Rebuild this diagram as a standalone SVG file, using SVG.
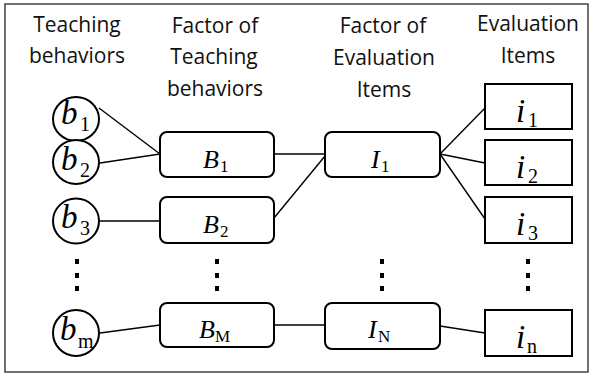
<svg xmlns="http://www.w3.org/2000/svg" width="592" height="375" viewBox="0 0 592 375">
  <style>
    .frame { fill: #ffffff; stroke: #404040; stroke-width: 1.5; }
    .hdr { font-family: "Open Sans", "Liberation Sans", sans-serif; font-size: 21px; fill: #111111; text-anchor: middle; }
    .node { fill: #ffffff; stroke: #000000; stroke-width: 2; }
    .edge { stroke: #000000; stroke-width: 1.4; fill: none; }
    .var { font-family: "Liberation Serif", "Times New Roman", serif; font-style: italic; fill: #000000; }
    .big { font-size: 33px; }
    .mid { font-size: 26px; }
    .sub { font-family: "Liberation Serif", "Times New Roman", serif; font-style: normal; fill: #000000; }
    .subbig { font-size: 20px; }
    .submid { font-size: 17px; }
    .dot { fill: #000000; }
  </style>
  <defs>
    <g id="vdots">
      <rect x="-2" y="259" width="4" height="5"/>
      <rect x="-2" y="273" width="4" height="5"/>
      <rect x="-2" y="286" width="4" height="5"/>
    </g>
  </defs>

  <rect class="frame" x="5" y="4" width="583" height="368"/>

  <!-- column headings -->
  <g id="headers">
    <text class="hdr" x="77" y="32">Teaching</text>
    <text class="hdr" x="77" y="63">behaviors</text>
    <text class="hdr" x="215" y="33">Factor of</text>
    <text class="hdr" x="214" y="64">Teaching</text>
    <text class="hdr" x="215" y="96">behaviors</text>
    <text class="hdr" x="383" y="33">Factor of</text>
    <text class="hdr" x="384" y="65">Evaluation</text>
    <text class="hdr" x="384" y="97">Items</text>
    <text class="hdr" x="528" y="31">Evaluation</text>
    <text class="hdr" x="528" y="63">Items</text>
  </g>

  <!-- connectors -->
  <g id="connectors">
    <line class="edge" x1="99" y1="108" x2="160" y2="154"/>
    <line class="edge" x1="100" y1="163" x2="160" y2="154"/>
    <line class="edge" x1="100" y1="221" x2="160" y2="221"/>
    <line class="edge" x1="100" y1="333" x2="160" y2="325"/>
    <line class="edge" x1="274" y1="154" x2="325" y2="154"/>
    <line class="edge" x1="274" y1="218" x2="325" y2="156"/>
    <line class="edge" x1="274" y1="325" x2="325" y2="325"/>
    <line class="edge" x1="440" y1="154" x2="485" y2="108"/>
    <line class="edge" x1="440" y1="154" x2="485" y2="163"/>
    <line class="edge" x1="440" y1="154" x2="485" y2="219"/>
    <line class="edge" x1="440" y1="326" x2="485" y2="333"/>
  </g>

  <!-- teaching behaviors -->
  <g id="b1">
    <ellipse class="node" cx="76" cy="119" rx="23" ry="22"/>
    <text class="var big" x="61" y="124">b</text>
    <text class="sub subbig" x="80" y="131">1</text>
  </g>
  <g id="b2">
    <ellipse class="node" cx="76" cy="162" rx="23" ry="22"/>
    <text class="var big" x="61" y="170">b</text>
    <text class="sub subbig" x="80" y="177">2</text>
  </g>
  <g id="b3">
    <ellipse class="node" cx="76" cy="221" rx="23" ry="22.5"/>
    <text class="var big" x="61" y="228">b</text>
    <text class="sub subbig" x="80" y="235">3</text>
  </g>
  <g id="bm">
    <ellipse class="node" cx="76" cy="333" rx="23" ry="23"/>
    <text class="var big" x="60" y="340">b</text>
    <text class="sub subbig" x="78" y="348">m</text>
  </g>
  <use href="#vdots" x="77" class="dot"/>

  <!-- factors of teaching behaviors -->
  <g id="B1">
    <rect class="node" x="160" y="132" width="114" height="45" rx="7"/>
    <text class="var mid" x="203" y="168">B</text>
    <text class="sub submid" x="220" y="172">1</text>
  </g>
  <g id="B2">
    <rect class="node" x="160" y="197" width="114" height="46" rx="7"/>
    <text class="var mid" x="203" y="233">B</text>
    <text class="sub submid" x="220" y="237">2</text>
  </g>
  <g id="BM">
    <rect class="node" x="160" y="303" width="114" height="44" rx="7"/>
    <text class="var mid" x="199" y="338">B</text>
    <text class="sub submid" x="215" y="342">M</text>
  </g>
  <use href="#vdots" x="217" class="dot"/>

  <!-- factors of evaluation items -->
  <g id="I1">
    <rect class="node" x="325" y="132" width="115" height="45" rx="7"/>
    <text class="var mid" x="371" y="168">I</text>
    <text class="sub submid" x="381" y="172">1</text>
  </g>
  <g id="IN">
    <rect class="node" x="325" y="303" width="115" height="46" rx="7"/>
    <text class="var mid" x="368" y="338">I</text>
    <text class="sub submid" x="378" y="342">N</text>
  </g>
  <use href="#vdots" x="382" class="dot"/>

  <!-- evaluation items -->
  <g id="i1">
    <rect class="node" x="485" y="84" width="87" height="45"/>
    <text class="var big" x="516" y="122">i</text>
    <text class="sub subbig" x="528" y="127">1</text>
  </g>
  <g id="i2">
    <rect class="node" x="485" y="140" width="87" height="45"/>
    <text class="var big" x="516" y="178">i</text>
    <text class="sub subbig" x="528" y="183">2</text>
  </g>
  <g id="i3">
    <rect class="node" x="485" y="197" width="87" height="46"/>
    <text class="var big" x="516" y="235">i</text>
    <text class="sub subbig" x="528" y="240">3</text>
  </g>
  <g id="in">
    <rect class="node" x="485" y="310" width="87" height="46"/>
    <text class="var big" x="516" y="348">i</text>
    <text class="sub subbig" x="527" y="353">n</text>
  </g>
  <use href="#vdots" x="528" class="dot"/>
</svg>
